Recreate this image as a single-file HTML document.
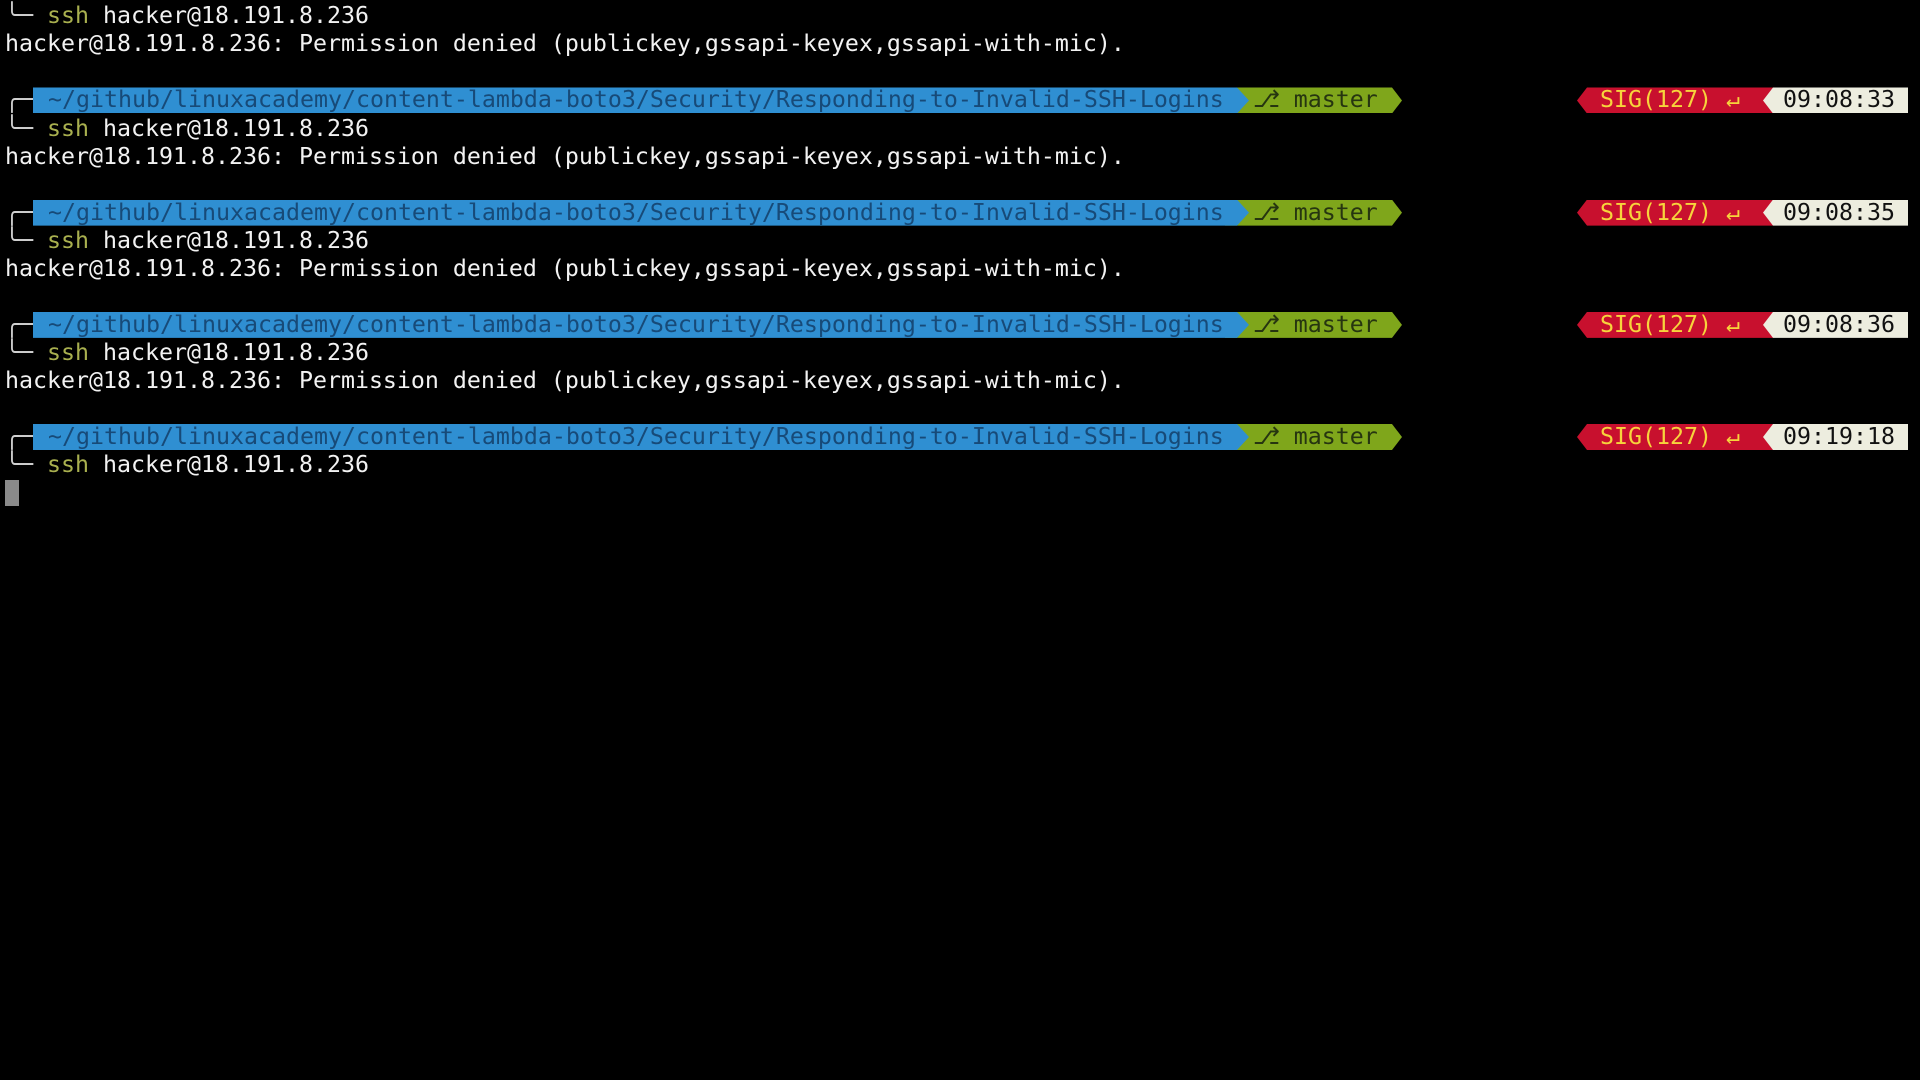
<!DOCTYPE html>
<html><head><meta charset="utf-8">
<style>
html,body{margin:0;padding:0;background:#000;width:1920px;height:1080px;overflow:hidden}
body{font-family:"DejaVu Sans Mono","Liberation Mono",monospace;font-size:23.25px;color:#f2f2f2;position:relative}
.ln{position:absolute;left:5px;height:28px;line-height:28px;white-space:pre}
.box{color:#d0d0d0}
.cmd{color:#a9b04f}
.seg{position:absolute;height:26px;line-height:26px;white-space:pre}
.blue{background:#2f8fd2;color:#174a78;clip-path:polygon(0 0,calc(100% - 12px) 0,100% 50%,calc(100% - 12px) 100%,0 100%)}
.green{background:#7fa61b;color:#263510;clip-path:polygon(0 0,calc(100% - 10px) 0,100% 50%,calc(100% - 10px) 100%,0 100%)}
.red{background:#c8102e;color:#f7d43c;clip-path:polygon(10px 0,100% 0,100% 100%,10px 100%,0 50%)}
.white{background:#ededdf;color:#111;clip-path:polygon(10px 0,100% 0,100% 100%,10px 100%,0 50%)}
.cursor{position:absolute;left:5px;top:480px;width:14px;height:26px;background:#8a8a8a}
</style></head>
<body>
<script>
const R=28.05;
const times=["09:08:33","09:08:35","09:08:36","09:19:18"];
const perm="hacker@18.191.8.236: Permission denied (publickey,gssapi-keyex,gssapi-with-mic).";
function line(row,html,name){
  const d=document.createElement('div');
  d.className='ln';
  d.style.top=(row*R+2.3)+'px';
  d.innerHTML=html;
  
  
  document.body.appendChild(d);
}
function seg(row,cls,left,width,text,pad,name){
  const d=document.createElement('div');
  d.className='seg '+cls;
  d.style.top=(row*R+3.3)+'px';
  d.style.left=left+'px';
  d.style.width=width+'px';
  d.style.paddingLeft=pad+'px';
  d.style.boxSizing='border-box';
  d.textContent=text;
  
  
  document.body.appendChild(d);
}
line(0,'<span class="box">╰─</span> <span class="cmd">ssh</span> hacker@18.191.8.236','command-line');
line(1,perm,'error-output');
for(let i=0;i<times.length;i++){
  const r=3+i*4;
  line(r,'<span class="box">╭─</span>','prompt-corner');
  seg(r,'green',1225,177,'  ⎇ master',0,'git-branch-segment');
  seg(r,'blue',33,1216,' ~/github/linuxacademy/content-lambda-boto3/Security/Responding-to-Invalid-SSH-Logins',1,'path-segment');
  seg(r,'red',1577,196,'SIG(127) ↵',23,'exit-status-segment');
  seg(r,'white',1763,145,times[i],20,'time-segment');
  line(r+1,'<span class="box">╰─</span> <span class="cmd">ssh</span> hacker@18.191.8.236','command-line');
  if(i<times.length-1) line(r+2,perm,'error-output');
}
const c=document.createElement('div');
c.className='cursor';


document.body.appendChild(c);
</script>
</body></html>
